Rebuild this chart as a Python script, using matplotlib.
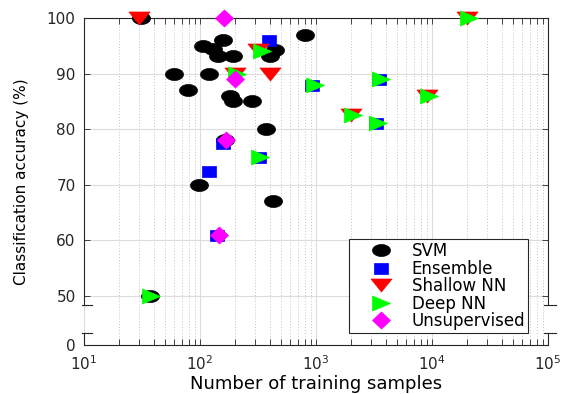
import numpy as np
import matplotlib
matplotlib.use("Agg")
import matplotlib.pyplot as plt
from matplotlib.path import Path
from matplotlib.lines import Line2D
from matplotlib.ticker import LogLocator, NullFormatter, FixedLocator, FixedFormatter

plt.rcParams["font.family"] = ["DejaVu Sans"]

# ---- data: (training samples, classification accuracy %) per method ----
svm_n = [31, 106, 158, 129, 143, 192, 60, 79, 120, 181, 192, 281, 370, 98, 425, 800, 440, 400, 165, 37]
svm_acc = [100, 95, 96, 94.5, 93.2, 93.2, 90, 87, 90, 86, 85, 85, 80, 70, 67, 97, 94.3, 93.2, 78, 50]

ens_n = [395, 920, 3500, 3300, 320, 120, 158, 140]
ens_acc = [96, 88, 89, 81, 75, 72.5, 77.5, 61]

shallow_n = [30, 400, 316, 200, 2000, 9000, 20000]
shallow_acc = [100, 90, 94.2, 90, 82.5, 86, 100]

deep_n = [342, 208, 980, 3600, 2100, 3400, 9500, 21000, 330, 38]
deep_acc = [94, 90, 88, 89, 82.5, 81, 86, 100, 75, 50]

unsup_n = [160, 200, 168, 145]
unsup_acc = [100, 89, 78, 61]

method_names = ["SVM", "Ensemble", "Shallow NN", "Deep NN", "Unsupervised"]
y_tick_values = [50, 60, 70, 80, 90, 100]

# ---- figure / axes ----
DPI = 100
W, H = 561, 394
fig = plt.figure(figsize=(W / DPI, H / DPI), dpi=DPI)
L, R, T, B = 84, 548, 18, 345
ax = fig.add_axes([L / W, (H - B) / H, (R - L) / W, (B - T) / H])

Y_BOTTOM = 41.1          # position where the "0" label sits below the axis break
BREAK_HI, BREAK_LO = 48.3, 43.3
AX_COL = "#262626"


def px2pt(p):
    return p * 72.0 / DPI


def shape(kind, w, h):
    """Build a marker path of w x h pixels; returns (path, markersize)."""
    if kind == "ellipse":
        t = np.linspace(0, 2 * np.pi, 64)
        v = np.column_stack([w / 2 * np.cos(t), h / 2 * np.sin(t)])
    elif kind == "square":
        v = np.array([[-w / 2, -h / 2], [w / 2, -h / 2], [w / 2, h / 2], [-w / 2, h / 2], [-w / 2, -h / 2]])
    elif kind == "tri_down":
        v = np.array([[-w / 2, h / 2], [w / 2, h / 2], [0, -h / 2], [-w / 2, h / 2]])
    elif kind == "tri_right":
        v = np.array([[-w / 2, h / 2], [w / 2, 0], [-w / 2, -h / 2], [-w / 2, h / 2]])
    else:  # diamond
        v = np.array([[0, h / 2], [w / 2, 0], [0, -h / 2], [-w / 2, 0], [0, h / 2]])
    return Path(v, closed=True), px2pt(max(w, h))


styles = [
    (svm_n, svm_acc, "ellipse", 18, 12, "#000000"),
    (ens_n, ens_acc, "square", 14, 11, "#0000ff"),
    (shallow_n, shallow_acc, "tri_down", 21, 13, "#ff0000"),
    (deep_n, deep_acc, "tri_right", 18, 15, "#00ff00"),
    (unsup_n, unsup_acc, "diamond", 18, 17, "#ff00ff"),
]

handles = []
for (xs, ys, kind, w, h, col), name in zip(styles, method_names):
    mk, ms = shape(kind, w, h)
    ax.plot(xs, ys, linestyle="none", marker=mk, markersize=ms,
            markerfacecolor=col, markeredgecolor=col, markeredgewidth=0.5,
            clip_on=False, zorder=3)
    handles.append(Line2D([], [], linestyle="none", marker=mk, markersize=ms,
                          markerfacecolor=col, markeredgecolor=col, markeredgewidth=0.5))

# ---- scales, ticks, grid ----
ax.set_xscale("log")
ax.set_xlim(10, 1e5)
ax.set_ylim(Y_BOTTOM, 100)
ax.xaxis.set_major_locator(LogLocator(base=10, numticks=10))
ax.xaxis.set_minor_locator(LogLocator(base=10, subs=np.arange(2, 10), numticks=20))
ax.xaxis.set_minor_formatter(NullFormatter())
ax.yaxis.set_major_locator(FixedLocator([Y_BOTTOM] + y_tick_values))
ax.yaxis.set_major_formatter(FixedFormatter(["0"] + [str(v) for v in y_tick_values]))

ax.set_axisbelow(True)
ax.grid(which="major", color="#dcdcdc", linewidth=0.8, linestyle="-")
ax.xaxis.grid(which="minor", color="#c4c4c4", linewidth=0.7, linestyle=(0, (1, 2)))

ax.tick_params(which="both", direction="in", top=True, right=True, length=4, width=0.6,
               colors=AX_COL, labelsize=11)
ax.tick_params(axis="x", which="major", pad=7)
ax.tick_params(axis="y", which="major", pad=6)
for lab in ax.get_xticklabels() + ax.get_yticklabels():
    lab.set_color(AX_COL)

# ---- frame with broken y axis ----
for side in ("left", "right"):
    ax.spines[side].set_visible(False)
for side in ("top", "bottom"):
    ax.spines[side].set_color(AX_COL)
    ax.spines[side].set_linewidth(0.8)

ytr = ax.get_yaxis_transform()
axw = R - L
for xpos in (0.0, 1.0):
    for y0, y1 in ((BREAK_HI, 100), (Y_BOTTOM, BREAK_LO)):
        ax.add_artist(Line2D([xpos, xpos], [y0, y1], transform=ytr, color=AX_COL,
                             linewidth=0.8, clip_on=False))
for yb in (BREAK_HI, BREAK_LO):
    ax.add_artist(Line2D([-2.3 / axw, 7.7 / axw], [yb, yb], transform=ytr, color=AX_COL,
                         linewidth=0.8, clip_on=False))
    ax.add_artist(Line2D([1 - 3.7 / axw, 1 + 8 / axw], [yb, yb], transform=ytr, color=AX_COL,
                         linewidth=0.8, clip_on=False))

# ---- axis titles ----
fig.text(316 / W, 5 / H, "Number of training samples", fontsize=13, color="#000000",
         ha="center", va="baseline")
fig.text(22 / W, (H - 182) / H, "Classification accuracy (%)", fontsize=11, color="#000000",
         rotation=90, ha="center", va="center")

# ---- legend ----
leg = ax.legend(handles, method_names, loc="lower left",
                bbox_to_anchor=((349 - L) / axw, (B - 333) / (B - T)),
                fontsize=12, frameon=True, fancybox=False, framealpha=1,
                edgecolor=AX_COL, borderpad=0.17, labelspacing=-0.03,
                handlelength=3.5, handletextpad=0.1, borderaxespad=0)
leg.get_frame().set_linewidth(0.8)

fig.savefig("out.png", dpi=DPI)
